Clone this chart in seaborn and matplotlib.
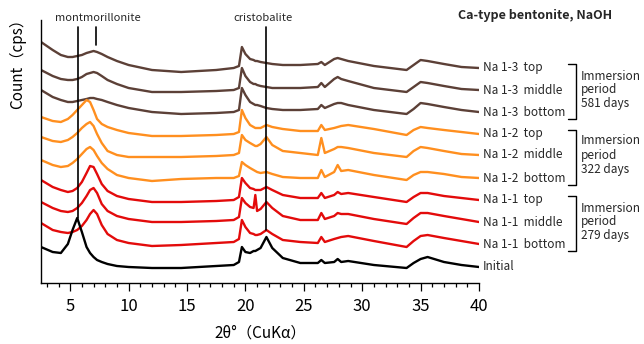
import numpy as np
import pandas as pd
import matplotlib
matplotlib.use("Agg")
import matplotlib.pyplot as plt
from matplotlib.ticker import MultipleLocator
import seaborn as sns

# ---------------- data ----------------
two_theta = [2.5, 3.5, 4.2, 4.8, 5.2, 5.6, 6.0, 6.4, 6.7, 7.0, 7.3, 7.7, 8.2, 9.0, 10.0,
             12.0, 14.5, 17.5, 19.0, 19.45, 19.7, 20.0, 20.4, 20.7, 20.85,
             21.0, 21.3, 21.8, 22.3, 23.2, 24.7, 26.2, 26.5, 26.8, 27.6,
             27.9, 28.2, 28.8, 31.0, 33.8, 34.4, 35.0, 35.6, 37.0, 38.5,
             40.0]

na13_top = [258, 250, 245, 243, 243, 244, 245, 247, 248, 249, 248, 246, 243, 239, 235,
            230, 228, 230, 232, 234, 253, 246, 241, 240, 239,
            239, 238, 237, 236, 235, 235, 236, 238, 235, 241,
            242, 241, 239, 234, 230, 235, 240, 239, 236, 233,
            232]
na13_middle = [230, 224, 221, 220, 220, 221, 223, 226, 227, 228, 227, 224, 220, 216, 212,
               208, 208, 209, 210, 212, 232, 224, 218, 216, 216,
               215, 214, 213, 212, 212, 212, 213, 217, 213, 221,
               223, 221, 219, 212, 208, 213, 218, 217, 214, 211,
               210]
na13_bottom = [210, 203, 200, 198, 198, 199, 200, 201, 202, 202, 201, 200, 198, 195, 192,
               188, 186, 187, 188, 190, 212, 205, 198, 196, 195,
               195, 194, 192, 191, 190, 190, 191, 195, 192, 196,
               197, 197, 195, 190, 186, 191, 197, 196, 193, 190,
               188]
na12_top = [183, 179, 178, 181, 185, 190, 195, 200, 198, 190, 181, 176, 173, 170, 167,
            164, 164, 165, 166, 168, 190, 182, 175, 173, 172,
            172, 172, 175, 173, 171, 169, 169, 175, 170, 172,
            173, 174, 175, 171, 165, 170, 173, 172, 170, 168,
            166]
na12_middle = [163, 159, 158, 160, 163, 167, 172, 176, 178, 174, 166, 157, 149, 145, 143,
               143, 143, 144, 145, 147, 165, 160, 157, 155, 154,
               154, 156, 163, 155, 149, 147, 145, 162, 147, 151,
               153, 153, 152, 147, 143, 149, 153, 152, 149, 146,
               145]
na12_bottom = [140, 135, 133, 134, 137, 141, 146, 151, 153, 150, 144, 137, 131, 125, 122,
               119, 121, 122, 122, 124, 138, 135, 132, 130, 129,
               128, 127, 128, 126, 123, 122, 122, 130, 123, 128,
               135, 129, 130, 125, 120, 125, 128, 128, 126, 123,
               122]
na11_top = [120, 113, 110, 108, 109, 112, 118, 127, 134, 133, 126, 116, 109, 104, 101,
            98, 98, 99, 100, 103, 122, 117, 112, 111, 110,
            110, 110, 113, 110, 105, 102, 102, 107, 102, 105,
            108, 106, 107, 103, 98, 103, 107, 107, 104, 102,
            100]
na11_middle = [98, 92, 89, 88, 89, 92, 97, 104, 110, 112, 107, 96, 89, 84, 81,
               78, 78, 79, 80, 83, 102, 97, 93, 92, 105,
               89, 91, 98, 92, 84, 80, 80, 87, 81, 84,
               87, 86, 86, 81, 76, 82, 87, 87, 84, 81,
               78]
na11_bottom = [77, 70, 68, 67, 68, 70, 74, 80, 86, 90, 86, 75, 66, 60, 57,
               54, 55, 57, 58, 61, 80, 73, 67, 66, 65,
               65, 66, 70, 66, 60, 58, 57, 63, 58, 61,
               62, 63, 64, 59, 53, 59, 64, 65, 62, 59,
               56]
initial = [53, 48, 47, 56, 70, 82, 68, 53, 47, 43, 40, 38, 36, 34, 33,
           32, 32, 34, 35, 38, 53, 48, 47, 49, 49,
           50, 52, 63, 52, 42, 37, 37, 40, 37, 38,
           41, 38, 39, 35, 32, 37, 41, 43, 38, 35,
           33]

sample_labels = ["Na 1-3  top", "Na 1-3  middle", "Na 1-3  bottom",
                 "Na 1-2  top", "Na 1-2  middle", "Na 1-2  bottom",
                 "Na 1-1  top", "Na 1-1  middle", "Na 1-1  bottom",
                 "Initial"]
sample_values = [na13_top, na13_middle, na13_bottom,
                 na12_top, na12_middle, na12_bottom,
                 na11_top, na11_middle, na11_bottom,
                 initial]
group_texts = ["Immersion\nperiod\n581 days",
               "Immersion\nperiod\n322 days",
               "Immersion\nperiod\n279 days"]

montmorillonite_2theta = [5.66, 7.23]
cristobalite_2theta = 21.8

# ---------------- style ----------------
brown = "#5c4037"
orange = "#ff8f1f"
red = "#e30b0b"
colors = [brown] * 3 + [orange] * 3 + [red] * 3 + ["#000000"]
palette = dict(zip(sample_labels, colors))

sns.set_theme(style="ticks")
FONT = ["Noto Sans CJK JP", "DejaVu Sans"]
plt.rcParams["font.family"] = FONT

df = pd.concat([pd.DataFrame({"two_theta": two_theta, "count": v, "sample": s})
                for s, v in zip(sample_labels, sample_values)], ignore_index=True)

fig = plt.figure(figsize=(6.44, 3.44), dpi=100)
ax = fig.add_axes([41 / 644, 61 / 344, 438 / 644, 263 / 344])

sns.lineplot(data=df, x="two_theta", y="count", hue="sample", hue_order=sample_labels,
             palette=palette, estimator=None, legend=False, linewidth=1.7, ax=ax)

ax.set_xlim(2.5, 40)
ax.set_ylim(17, 280)
ax.set_yticks([])
ax.xaxis.set_major_locator(MultipleLocator(5))
ax.xaxis.set_minor_locator(MultipleLocator(1))
ax.tick_params(axis="x", which="major", direction="out", length=6, width=0.9,
               labelsize=12, pad=5, color="black", labelcolor="black")
ax.tick_params(axis="x", which="minor", direction="out", length=3, width=0.9, color="black")
for side in ("top", "right"):
    ax.spines[side].set_visible(False)
for side in ("left", "bottom"):
    ax.spines[side].set_color("black")
    ax.spines[side].set_linewidth(1.0)
ax.set_xlabel("2θ°（CuKα）", fontsize=11, labelpad=7, color="black")
ax.set_ylabel("")
fig.text(18 / 644, 1 - 60 / 344, "Count（cps）", rotation=90, fontsize=11,
         ha="center", va="center", color="black")

# peak marker lines
ax.plot([montmorillonite_2theta[0]] * 2, [273, initial[5]], color="black", lw=1.2, clip_on=False)
ax.plot([montmorillonite_2theta[1]] * 2, [273, 255], color="black", lw=1.2, clip_on=False)
ax.plot([cristobalite_2theta] * 2, [273, na11_bottom[27]], color="black", lw=1.2, clip_on=False)
ax.text(7.4, 282, "montmorillonite", fontsize=8, ha="center", va="center", clip_on=False)
ax.text(21.5, 282, "cristobalite", fontsize=8, ha="center", va="center", clip_on=False)

fig.text(535 / 644, 1 - 16 / 344, "Ca-type bentonite, NaOH", fontsize=9,
         fontweight="bold", ha="center", va="center")

# sample labels at trace ends
for s, v in zip(sample_labels, sample_values):
    ax.text(40.3, v[-1], s, fontsize=8.5, ha="left", va="center", clip_on=False)

# brackets
for g, txt in enumerate(group_texts):
    top_v = sample_values[3 * g][-1] + 4.5
    bot_v = sample_values[3 * g + 2][-1] - 7
    mid_v = sample_values[3 * g + 1][-1]
    ax.plot([47.6, 48.28, 48.28, 47.6], [top_v, top_v, bot_v, bot_v],
            color="black", lw=1.0, clip_on=False)
    ax.text(48.72, mid_v, txt, fontsize=8.5, ha="left", va="center",
            linespacing=1.1, clip_on=False)

fig.savefig("out.png", dpi=100)
